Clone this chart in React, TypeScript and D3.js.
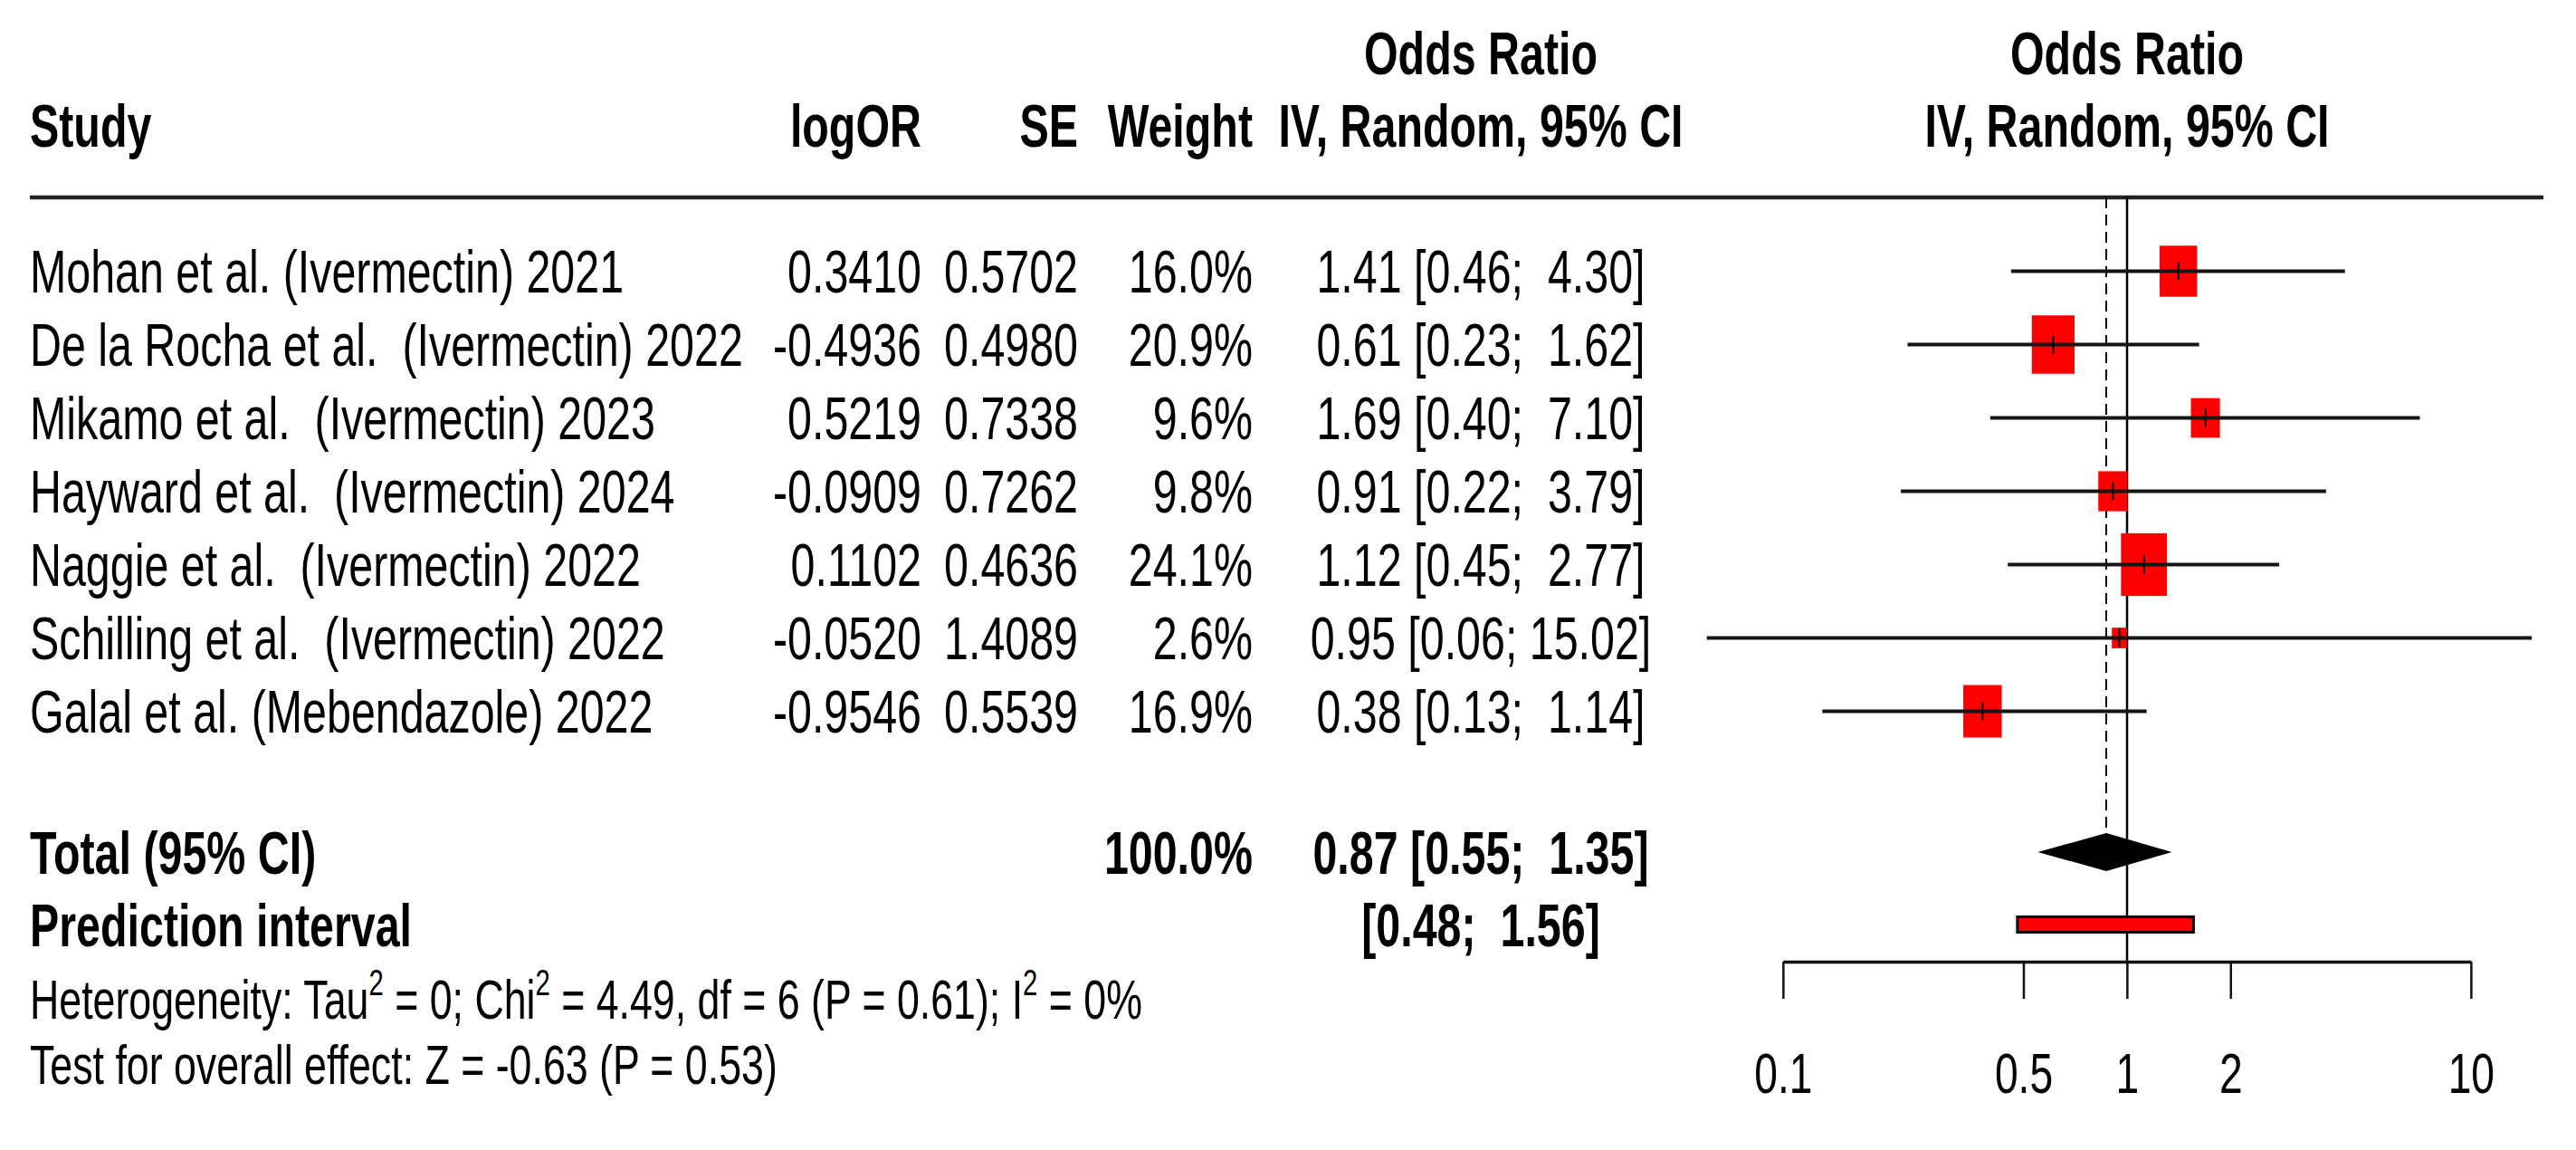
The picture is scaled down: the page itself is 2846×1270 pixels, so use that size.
import React, { useEffect, useRef } from 'react';
import * as d3 from 'd3';

// study-level data
const studies = [
    'Mohan et al. (Ivermectin) 2021',
    'De la Rocha et al.  (Ivermectin) 2022',
    'Mikamo et al.  (Ivermectin) 2023',
    'Hayward et al.  (Ivermectin) 2024',
    'Naggie et al.  (Ivermectin) 2022',
    'Schilling et al.  (Ivermectin) 2022',
    'Galal et al. (Mebendazole) 2022',
];
const logOR = ['0.3410', '-0.4936', '0.5219', '-0.0909', '0.1102', '-0.0520', '-0.9546'];
const seVals = ['0.5702', '0.4980', '0.7338', '0.7262', '0.4636', '1.4089', '0.5539'];
const weights = [16.0, 20.9, 9.6, 9.8, 24.1, 2.6, 16.9];
const orEst = [1.41, 0.61, 1.69, 0.91, 1.12, 0.95, 0.38];
const ciLow = [0.46, 0.23, 0.40, 0.22, 0.45, 0.06, 0.13];
const ciHigh = [4.30, 1.62, 7.10, 3.79, 2.77, 15.02, 1.14];

// pooled results
const pooled = { est: 0.87, lo: 0.55, hi: 1.35 };
const predInt = { lo: 0.48, hi: 1.56 };
const axisTicks = [0.1, 0.5, 1, 2, 10];

const W = 2846;
const H = 1270;
const SX = 0.733; // the figure is squeezed horizontally
const VBW = W / SX;
const px = (v: number) => v / SX;

const FONT = 'Liberation Sans, Arial, Helvetica, sans-serif';
const FS = 66;
const FS_NOTE = 61;
const PRE = { whiteSpace: 'pre' as const };

const fmt = (v: number) => v.toFixed(2);
const pad = (s: string, n: number) => ' '.repeat(Math.max(0, n - s.length)) + s;
const ciText = (lo: number, hi: number) => `[${fmt(lo)}; ${pad(fmt(hi), 5)}]`;

const App: React.FC = () => {
    const axisRef = useRef<SVGGElement>(null);

    const xScale = d3.scaleLog().domain([0.1, 10]).range([px(1970), px(2730)]);
    const yScale = d3.scalePoint<string>().domain(studies).range([299.5, 785.5]);
    const boxSize = d3.scaleSqrt().domain([0, 100]).range([0, 141]);

    const yTotal = 941;
    const yPred = 1021;
    const yAxis = 1062;
    const lineTop = 218;

    useEffect(() => {
        if (!axisRef.current) return;
        const g = d3.select(axisRef.current);
        g.selectAll('*').remove();
        const axis = d3.axisBottom(xScale)
            .tickValues(axisTicks)
            .tickFormat(d => String(d))
            .tickSize(41)
            .tickSizeOuter(0)
            .tickPadding(59);
        g.call(axis);
        g.select('.domain')
            .attr('stroke', '#111')
            .attr('stroke-width', 3.5)
            .attr('vector-effect', 'non-scaling-stroke');
        g.selectAll('.tick line')
            .attr('stroke', '#111')
            .attr('stroke-width', 2.5)
            .attr('vector-effect', 'non-scaling-stroke');
        g.selectAll('.tick text')
            .attr('fill', '#000')
            .attr('font-size', 63)
            .attr('font-family', FONT);
    }, []);

    const colCenter = px(1636);
    const plotCenter = xScale(1);

    return (
        <svg
            width={W}
            height={H}
            viewBox={`0 0 ${VBW} ${H}`}
            preserveAspectRatio="none"
            style={{ position: 'absolute', left: 0, top: 0, background: '#fff' }}
            fontFamily={FONT}
        >
            <rect x={0} y={0} width={VBW} height={H} fill="#fff" />

            {/* header */}
            <g fontWeight="bold" fontSize={FS} fill="#000">
                <text x={colCenter} y={82} textAnchor="middle">Odds Ratio</text>
                <text x={plotCenter} y={82} textAnchor="middle">Odds Ratio</text>
                <text x={px(33)} y={162}>Study</text>
                <text x={px(1018)} y={162} textAnchor="end">logOR</text>
                <text x={px(1191)} y={162} textAnchor="end">SE</text>
                <text x={px(1384)} y={162} textAnchor="end">Weight</text>
                <text x={colCenter} y={162} textAnchor="middle">IV, Random, 95% CI</text>
                <text x={plotCenter} y={162} textAnchor="middle">IV, Random, 95% CI</text>
            </g>
            <line x1={px(33)} x2={px(2810)} y1={lineTop} y2={lineTop} stroke="#222" strokeWidth={4.5} />

            {/* reference lines */}
            <line
                x1={xScale(1)} x2={xScale(1)} y1={lineTop} y2={yAxis}
                stroke="#000" strokeWidth={2.5} vectorEffect="non-scaling-stroke"
            />
            <line
                x1={xScale(pooled.est)} x2={xScale(pooled.est)} y1={lineTop} y2={yTotal - 21}
                stroke="#000" strokeWidth={2} strokeDasharray="12 7" vectorEffect="non-scaling-stroke"
            />

            {/* study rows */}
            {studies.map((s, i) => {
                const cy = yScale(s) as number;
                const base = cy + 23.6;
                const size = boxSize(weights[i]);
                const cx = xScale(orEst[i]);
                return (
                    <g key={s}>
                        <g fontSize={FS} fill="#000">
                            <text x={px(33)} y={base} xmlSpace="preserve" style={PRE}>{s}</text>
                            <text x={px(1018)} y={base} textAnchor="end">{logOR[i]}</text>
                            <text x={px(1191)} y={base} textAnchor="end">{seVals[i]}</text>
                            <text x={px(1384)} y={base} textAnchor="end">{weights[i].toFixed(1)}%</text>
                            <text x={colCenter} y={base} textAnchor="middle" xmlSpace="preserve" style={PRE}>
                                {`${fmt(orEst[i])} ${ciText(ciLow[i], ciHigh[i])}`}
                            </text>
                        </g>
                        <rect x={cx - size / 2} y={cy - size / 2} width={size} height={size} fill="#ff0000" />
                        <line
                            x1={xScale(ciLow[i])} x2={xScale(ciHigh[i])} y1={cy} y2={cy}
                            stroke="#151515" strokeWidth={4}
                        />
                        <line
                            x1={cx} x2={cx} y1={cy - 10} y2={cy + 10}
                            stroke="#000" strokeWidth={2} vectorEffect="non-scaling-stroke"
                        />
                    </g>
                );
            })}

            {/* pooled */}
            <g fontWeight="bold" fontSize={FS} fill="#000">
                <text x={px(33)} y={yTotal + 23.6}>Total (95% CI)</text>
                <text x={px(1384)} y={yTotal + 23.6} textAnchor="end">100.0%</text>
                <text x={colCenter} y={yTotal + 23.6} textAnchor="middle" xmlSpace="preserve" style={PRE}>
                    {`${fmt(pooled.est)} ${ciText(pooled.lo, pooled.hi)}`}
                </text>
                <text x={px(33)} y={yPred + 23.6}>Prediction interval</text>
                <text x={colCenter} y={yPred + 23.6} textAnchor="middle" xmlSpace="preserve" style={PRE}>
                    {ciText(predInt.lo, predInt.hi)}
                </text>
            </g>
            <polygon
                points={[
                    [xScale(pooled.lo), yTotal],
                    [xScale(pooled.est), yTotal - 21],
                    [xScale(pooled.hi), yTotal],
                    [xScale(pooled.est), yTotal + 21],
                ].map(p => p.join(',')).join(' ')}
                fill="#000"
            />
            <rect
                x={xScale(predInt.lo)}
                y={yPred - 8.5}
                width={xScale(predInt.hi) - xScale(predInt.lo)}
                height={17}
                fill="#ff0000"
                stroke="#000"
                strokeWidth={3}
                vectorEffect="non-scaling-stroke"
            />

            {/* notes */}
            <g fontSize={FS_NOTE} fill="#000">
                <text x={px(33)} y={1125} xmlSpace="preserve" style={PRE}>
                    <tspan>Heterogeneity: Tau</tspan>
                    <tspan fontSize={40} dy={-26}>2</tspan>
                    <tspan dy={26}> = 0; Chi</tspan>
                    <tspan fontSize={40} dy={-26}>2</tspan>
                    <tspan dy={26}> = 4.49, df = 6 (P = 0.61); I</tspan>
                    <tspan fontSize={40} dy={-26}>2</tspan>
                    <tspan dy={26}> = 0%</tspan>
                </text>
                <text x={px(33)} y={1197}>Test for overall effect: Z = -0.63 (P = 0.53)</text>
            </g>

            <g ref={axisRef} transform={`translate(0,${yAxis})`} />
        </svg>
    );
};

export default App;
